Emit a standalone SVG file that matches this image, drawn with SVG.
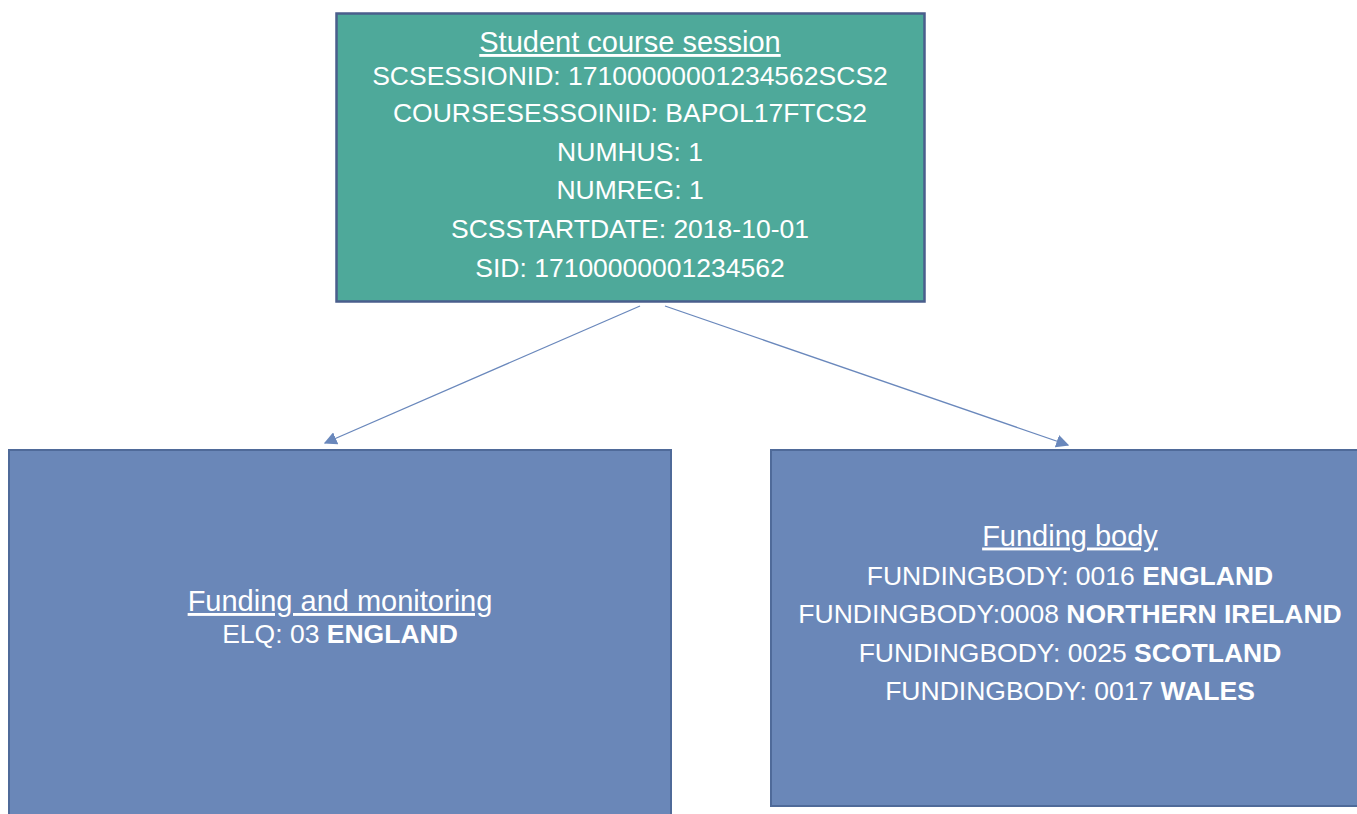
<svg xmlns="http://www.w3.org/2000/svg" width="1357" height="814" viewBox="0 0 1357 814">
<style>
text{font-family:"Liberation Sans",Arial,sans-serif;fill:#ffffff;text-anchor:middle}
.t{font-size:29px;text-decoration:underline}
.b{font-size:26.5px}
.k{font-weight:bold}
.conn{stroke:#6a88bc;stroke-width:1.3;fill:none}
</style>
<defs>
<marker id="ah" viewBox="0 0 10 10" refX="9" refY="5" markerWidth="13" markerHeight="13" markerUnits="userSpaceOnUse" orient="auto">
<path d="M0,0 L10,5 L0,10 z" fill="#6a88bc"/>
</marker>
</defs>
<rect width="1357" height="814" fill="#ffffff"/>
<g id="connectors">
<line class="conn" x1="640" y1="306" x2="325" y2="443" marker-end="url(#ah)"/>
<line class="conn" x1="665" y1="306" x2="1068" y2="445" marker-end="url(#ah)"/>
</g>
<g id="student-course-session">
<rect x="336.5" y="13.5" width="588" height="288" fill="#4ea99a" stroke="#4a5e8c" stroke-width="2.5"/>
<text class="t" x="630" y="52">Student course session</text>
<text class="b" x="630" y="84.5">SCSESSIONID: 17100000001234562SCS2</text>
<text class="b" x="630" y="121.5">COURSESESSOINID: BAPOL17FTCS2</text>
<text class="b" x="630" y="160.5">NUMHUS: 1</text>
<text class="b" x="630" y="198.5">NUMREG: 1</text>
<text class="b" x="630" y="237.5">SCSSTARTDATE: 2018-10-01</text>
<text class="b" x="630" y="276.5">SID: 17100000001234562</text>
</g>
<g id="funding-and-monitoring">
<rect x="9" y="450" width="662" height="380" fill="#6a87b8" stroke="#4f6a99" stroke-width="2"/>
<text class="t" x="340" y="611">Funding and monitoring</text>
<text class="b" x="340" y="642.5">ELQ: 03 <tspan class="k">ENGLAND</tspan></text>
</g>
<g id="funding-body">
<rect x="771" y="450" width="598" height="356" fill="#6a87b8" stroke="#4f6a99" stroke-width="2"/>
<text class="t" x="1070" y="545.5">Funding body</text>
<text class="b" x="1070" y="584.5">FUNDINGBODY: 0016 <tspan class="k">ENGLAND</tspan></text>
<text class="b" x="1070" y="622.5">FUNDINGBODY:0008 <tspan class="k">NORTHERN IRELAND</tspan></text>
<text class="b" x="1070" y="661.5">FUNDINGBODY: 0025 <tspan class="k">SCOTLAND</tspan></text>
<text class="b" x="1070" y="699.5">FUNDINGBODY: 0017 <tspan class="k">WALES</tspan></text>
</g>
</svg>
